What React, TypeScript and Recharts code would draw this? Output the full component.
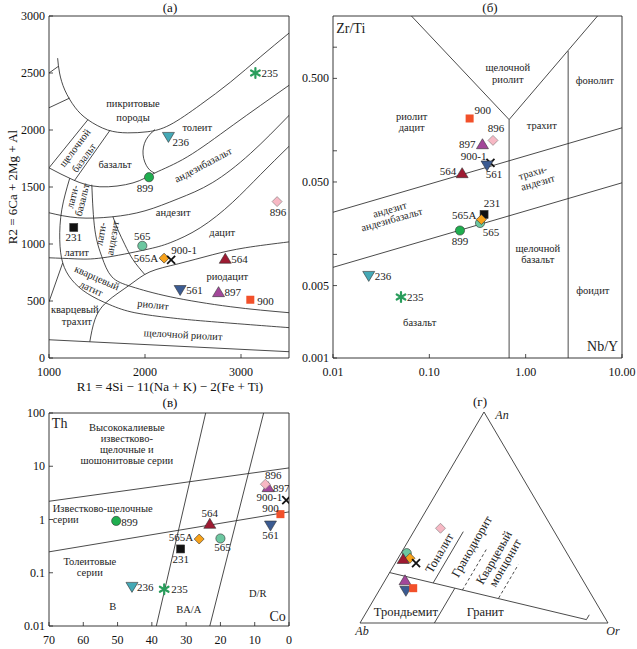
import React from "react";
import { ComposedChart, Line, Scatter, XAxis, YAxis, ReferenceArea } from "recharts";

const FONT = '"Liberation Serif", "DejaVu Serif", serif';
const INK = "#222";

// samples, same order in every panel
const SAMPLES = ["235", "236", "899", "231", "565", "565A", "900-1", "564", "561", "897", "900", "896"];

// (а) R1-R2
const R1 = [3150, 2244, 2042, 1258, 1972, 2199, 2272, 2836, 2366, 2766, 3097, 3376];
const R2 = [2500, 1942, 1586, 1145, 984, 876, 861, 868, 599, 575, 511, 1372];

// (б) Nb/Y - Zr/Ti
const NB_Y = [0.0508, 0.0235, 0.208, 0.37, 0.336, 0.347, 0.431, 0.219, 0.397, 0.356, 0.262, 0.458];
const ZR_TI = [0.00388, 0.00624, 0.017, 0.0243, 0.0201, 0.0217, 0.0766, 0.0604, 0.0726, 0.115, 0.205, 0.126];

// (в) Co - Th
const CO = [36.4, 45.8, 50.4, 31.6, 20.0, 26.2, 0.8, 23.1, 5.4, 6.1, 2.5, 6.9];
const TH = [0.049, 0.055, 0.94, 0.28, 0.44, 0.43, 2.3, 0.82, 0.78, 4.0, 1.26, 4.6];

// (г) An-Ab-Or, %
const AN = [null, null, null, null, 33.1, 30.7, 28.4, 30.2, 15.4, 20.1, 16.5, 44.9];
const OR = [null, null, null, null, 2.3, 4.8, 8.4, 2.3, 10.8, 8.1, 13.2, 10.0];

// field boundaries, (а)
const A_LINES: number[][][] = [
  [[1090, 2630], [1110, 2500], [1165, 2350], [1270, 2200], [1405, 2090], [1610, 2000], [1820, 1975], [2030, 1985], [2260, 2045], [2575, 2220], [2890, 2420], [3200, 2640], [3500, 2850]],
  [[1000, 2500], [1100, 2560]],
  [[1000, 2195], [1215, 2280]],
  [[1000, 1668], [1405, 2090]],
  [[1265, 1556], [1635, 1997]],
  [[1000, 1668], [1250, 1563], [1530, 1502], [1875, 1536], [2105, 1624], [2440, 1764], [2920, 2045], [3505, 2395]],
  [[2105, 2005], [2010, 1913], [1980, 1782], [2030, 1668], [2100, 1622]],
  [[1000, 1274], [1300, 1230], [1655, 1238], [2000, 1291], [2345, 1397], [2700, 1537], [3097, 1793], [3505, 2132]],
  [[1000, 879], [1270, 870], [1560, 879], [2000, 949], [2262, 1011], [2575, 1142], [2909, 1363], [3202, 1608], [3505, 1861]],
  [[1425, 143], [1478, 336], [1603, 493], [1843, 642], [2052, 756], [2345, 826], [2700, 905], [3045, 967], [3505, 1019]],
  [[1666, 1240], [1718, 1124], [1791, 993], [1875, 862], [2000, 730]],
  [[1216, 1577], [1133, 1300], [1112, 1037], [1143, 835], [1237, 686], [1404, 564], [1634, 467], [1895, 397], [2262, 353], [2575, 327], [3097, 292], [3505, 266]],
  [[1446, 1520], [1478, 1124], [1551, 887], [1655, 712], [1864, 625], [2262, 537], [2888, 450], [3505, 397]],
  [[1000, 493], [1143, 835]],
  [[1000, 160], [3505, 55]],
];

// (б)
const B_LINES: number[][][] = [
  [[0.0652, 2], [0.673, 0.2], [5.57, 2]],
  [[0.673, 0.2], [0.673, 0.001]],
  [[2.76, 0.917], [2.76, 0.001]],
  [[0.01, 0.0255], [10, 0.1667]],
  [[0.01, 0.0075], [10, 0.0491]],
];

// (в)
const C_LINES: number[][][] = [
  [[38.7, 0.01], [24.3, 100]],
  [[23.1, 0.01], [7.4, 100]],
  [[70, 2.2], [0, 9.3]],
  [[70, 0.247], [0, 1.39]],
];

// (г) [An, Or]
const D_TRIANGLE = [[0, 0], [100, 0], [0, 100], [0, 0]];
const D_LINES: number[][][] = [
  [[23.9, 0], [1.6, 90.5], [3.9, 90.5]],
  [[0, 30], [16.5, 30]],
  [[19, 20], [43.3, 20]],
];
const D_DASHED: number[][][] = [
  [[15.6, 33.5], [35.4, 33.5]],
  [[11.8, 50], [27.6, 50]],
];

type Lab = [string, number, number, number?, string?];

const LABELS_A: Lab[] = [
  ["пикритовые", 1875, 2229],
  ["породы", 1875, 2114],
  ["толеит", 2544, 2018],
  ["базальт", 1687, 1694],
  ["щелочной", 1269, 1843, -53],
  ["базальт", 1363, 1756, -53],
  ["андезибазальт", 2606, 1694, -28],
  ["андезит", 2293, 1274],
  ["дацит", 2805, 1098],
  ["риодацит", 2857, 713],
  ["риолит", 2084, 467, 6],
  ["щелочной риолит", 2397, 204, 3],
  ["латит", 1289, 923],
  ["кварцевый", 1499, 704, 24],
  ["латит", 1440, 610, 24],
  ["кварцевый", 1269, 423],
  ["трахит", 1290, 318],
  ["лати-", 1245, 1416, -76],
  ["базальт", 1345, 1387, -76],
  ["лати-", 1540, 1089, -80],
  ["андезит", 1663, 1052, -80],
];

const LABELS_B: Lab[] = [
  ["щелочной", 0.652, 0.638],
  ["риолит", 0.652, 0.489],
  ["фонолит", 5.22, 0.478],
  ["риолит", 0.0656, 0.214],
  ["дацит", 0.0656, 0.168],
  ["трахит", 1.47, 0.176],
  ["трахи-", 1.185, 0.0617, -16],
  ["андезит", 1.336, 0.0494, -16],
  ["андезит", 0.0388, 0.0271, -16],
  ["андезибазальт", 0.0407, 0.0217, -16],
  ["щелочной", 1.336, 0.01138],
  ["базальт", 1.336, 0.00891],
  ["фоидит", 4.97, 0.00447],
  ["базальт", 0.0794, 0.00219],
];

const LABELS_C: Lab[] = [
  ["Высококалиевые", 47.3, 52.3],
  ["известково-", 47.3, 33.5],
  ["щелочные и", 47.3, 20.9],
  ["шошонитовые серии", 47.3, 13.0],
  ["Известково-щелочные", 68.9, 1.63, 0, "start"],
  ["серии", 68.9, 1.02, 0, "start"],
  ["Толеитовые", 58.1, 0.165],
  ["серии", 58.1, 0.103],
  ["B", 51.4, 0.0228],
  ["BA/A", 29.25, 0.02],
  ["D/R", 9.1, 0.0416],
];

// [text, An, Or, angle]
const LABELS_D: Lab[] = [
  ["Тоналит", 33.1, 15.5, -60],
  ["Гранодиорит", 36.2, 27, -60],
  ["Кварцевый", 31, 38.6, -60],
  ["монцонит", 28.5, 44.3, -60],
  ["Трондьемит", 5, 16],
  ["Гранит", 5, 48],
];

const STYLE: Record<string, { shape: string; fill: string }> = {
  "235": { shape: "star", fill: "#2a9d5c" },
  "236": { shape: "down", fill: "#45a9b6" },
  "899": { shape: "circle", fill: "#1fae4f" },
  "231": { shape: "square", fill: "#111111" },
  "565": { shape: "circle", fill: "#6cc7a0" },
  "565A": { shape: "diamond", fill: "#f7a21b" },
  "900-1": { shape: "cross", fill: "#111111" },
  "564": { shape: "up", fill: "#9e1b32" },
  "561": { shape: "down", fill: "#3b5b92" },
  "897": { shape: "up", fill: "#a3479a" },
  "900": { shape: "square", fill: "#f2502a" },
  "896": { shape: "diamond", fill: "#f7b8c4" },
};

type LP = Record<string, [number, number, "start" | "middle" | "end"]>;

const POS_A: LP = {
  "235": [6, 4, "start"], "236": [4, 9, "start"], "899": [-4, 15, "middle"], "231": [0, 14, "middle"],
  "565": [0, -6, "middle"], "565A": [-6, 4, "end"], "900-1": [13, -6, "middle"], "564": [6, 4, "start"],
  "561": [6, 4, "start"], "897": [6, 4, "start"], "900": [7, 5, "start"], "896": [1, 14, "middle"],
};
const POS_B: LP = {
  "900": [13, -4, "middle"], "896": [3, -8, "middle"], "897": [-7, 3, "end"], "900-1": [-4, -3, "end"],
  "561": [7, 13, "middle"], "564": [-6, 2, "end"], "231": [8, -7, "middle"], "565A": [-5, -1, "end"],
  "565": [11, 13, "middle"], "899": [0, 14, "middle"], "236": [6, 4, "start"], "235": [6, 4, "start"],
};
const POS_C: LP = {
  "896": [8, -5, "middle"], "897": [5, 5, "start"], "900-1": [-4, 1, "end"], "900": [-10, -2, "middle"],
  "561": [0, 14, "middle"], "564": [0, -7, "middle"], "565A": [-6, 2, "end"], "565": [2, 13, "middle"],
  "231": [0, 14, "middle"], "899": [5, 5, "start"], "236": [5, 4, "start"], "235": [7, 4, "start"],
};

const toXY = (pts: number[][]) => pts.map(([x, y]) => ({ x, y }));
const tern = (an: number, or: number) => ({ x: (or + an / 2) / 100, y: an / 100 });
const ternLine = (pts: number[][]) => pts.map(([an, or]) => tern(an, or));

const samplePoints = (xs: (number | null)[], ys: (number | null)[]) =>
  SAMPLES.map((name, i) => ({ name, x: xs[i], y: ys[i] })).filter((d) => d.x != null && d.y != null);

const ternPoints = () =>
  SAMPLES.map((name, i) => (AN[i] == null ? null : { name, ...tern(AN[i] as number, OR[i] as number) })).filter(Boolean) as any[];

function drawMarker(shape: string, fill: string, cx: number, cy: number) {
  const s = "#333";
  const w = 0.6;
  switch (shape) {
    case "circle":
      return <circle cx={cx} cy={cy} r={4.6} fill={fill} stroke={s} strokeWidth={w} />;
    case "square":
      return <rect x={cx - 4} y={cy - 4} width={8} height={8} fill={fill} stroke={fill === "#111111" ? s : "none"} strokeWidth={w} />;
    case "up":
      return <polygon points={`${cx},${cy - 5.8} ${cx + 6},${cy + 4.2} ${cx - 6},${cy + 4.2}`} fill={fill} stroke={s} strokeWidth={w} />;
    case "down":
      return <polygon points={`${cx - 6},${cy - 4.2} ${cx + 6},${cy - 4.2} ${cx},${cy + 5.8}`} fill={fill} stroke={s} strokeWidth={w} />;
    case "diamond":
      return <polygon points={`${cx},${cy - 5} ${cx + 5},${cy} ${cx},${cy + 5} ${cx - 5},${cy}`} fill={fill} stroke={fill === "#f7b8c4" ? "#777" : s} strokeWidth={w} />;
    case "star":
      return (
        <g stroke={fill} strokeWidth={2.2} strokeLinecap="round">
          {[0, 60, 120].map((a) => {
            const r = (a * Math.PI) / 180;
            const dx = 5 * Math.sin(r);
            const dy = 5 * Math.cos(r);
            return <line key={a} x1={cx - dx} y1={cy - dy} x2={cx + dx} y2={cy + dy} />;
          })}
        </g>
      );
    case "cross":
      return (
        <g stroke={fill} strokeWidth={1.8}>
          <line x1={cx - 4} y1={cy - 4} x2={cx + 4} y2={cy + 4} />
          <line x1={cx - 4} y1={cy + 4} x2={cx + 4} y2={cy - 4} />
        </g>
      );
    default:
      return null;
  }
}

const markerShape = (pos: LP | null) => (p: any) => {
  const { cx, cy, payload } = p;
  const st = STYLE[payload.name];
  const lp = pos ? pos[payload.name] : null;
  return (
    <g>
      {drawMarker(st.shape, st.fill, cx, cy)}
      {lp && (
        <text x={cx + lp[0]} y={cy + lp[1]} textAnchor={lp[2]} fontSize={11} fontFamily={FONT} fill={INK}>
          {payload.name}
        </text>
      )}
    </g>
  );
};

const textShape = (size: number, italic = false) => (p: any) => {
  const { cx, cy, payload } = p;
  const a = payload.angle || 0;
  return (
    <text
      x={cx + (payload.dx || 0)}
      y={cy + (payload.dy || 0)}
      textAnchor={payload.anchor || "middle"}
      dominantBaseline="central"
      fontSize={size}
      fontStyle={italic ? "italic" : "normal"}
      fontFamily={FONT}
      fill={INK}
      transform={a ? `rotate(${a} ${cx} ${cy})` : undefined}
    >
      {payload.text}
    </text>
  );
};

const labelData = (labs: Lab[]) =>
  labs.map(([text, x, y, angle, anchor]) => ({ text, x, y, angle: angle || 0, anchor: anchor || "middle" }));

const tickLeft = (fmt: (v: number) => string) => (p: any) => {
  const { x, y, payload } = p;
  return (
    <g>
      <line x1={x} y1={y} x2={x + 4} y2={y} stroke={INK} strokeWidth={0.8} />
      <text x={x - 4} y={y + 4} textAnchor="end" fontSize={12} fontFamily={FONT} fill="#111">
        {fmt(payload.value)}
      </text>
    </g>
  );
};

const tickBottom = (fmt: (v: number) => string) => (p: any) => {
  const { x, y, payload } = p;
  return (
    <g>
      <line x1={x} y1={y} x2={x} y2={y - 4} stroke={INK} strokeWidth={0.8} />
      <text x={x} y={y + 18} textAnchor="middle" fontSize={12} fontFamily={FONT} fill="#111">
        {fmt(payload.value)}
      </text>
    </g>
  );
};

const B_YLAB: Record<string, string> = { "0.001": "0.001", "0.005": "0.005", "0.05": "0.050", "0.5": "0.500" };
const B_XLAB: Record<string, string> = { "0.01": "0.01", "0.1": "0.10", "1": "1.00", "10": "10.00" };

function Txt({ x, y, children, rot = 0, size = 13 }: { x: number; y: number; children: any; rot?: number; size?: number }) {
  return (
    <div
      style={{
        position: "absolute",
        left: x,
        top: y,
        transform: `translate(-50%, -50%) rotate(${rot}deg)`,
        whiteSpace: "nowrap",
        fontFamily: FONT,
        fontSize: size,
        lineHeight: 1,
        color: "#111",
      }}
    >
      {children}
    </div>
  );
}

const lineProps = {
  dataKey: "y",
  dot: false,
  activeDot: false,
  stroke: "#2a2a2a",
  strokeWidth: 0.85,
  isAnimationActive: false,
} as const;

function PanelA() {
  return (
    <ComposedChart width={300} height={395} margin={{ top: 16, right: 11, bottom: 17, left: 4 }}>
      <XAxis dataKey="x" type="number" domain={[1000, 3500]} allowDataOverflow ticks={[1000, 2000, 3000]} interval={0}
        axisLine={false} tickLine={false} tickSize={0} tickMargin={0} height={20} tick={tickBottom((v) => String(v))} />
      <YAxis dataKey="y" type="number" domain={[0, 3000]} allowDataOverflow ticks={[0, 500, 1000, 1500, 2000, 2500, 3000]} interval={0}
        axisLine={false} tickLine={false} tickSize={0} tickMargin={0} width={45} tick={tickLeft((v) => String(v))} />
      {A_LINES.map((l, i) => (
        <Line key={"a" + i} data={toXY(l)} type={l.length > 2 ? "natural" : "linear"} {...lineProps} />
      ))}
      <Scatter data={labelData(LABELS_A)} shape={textShape(10.5)} isAnimationActive={false} />
      <Scatter data={samplePoints(R1, R2)} shape={markerShape(POS_A)} isAnimationActive={false} />
      <ReferenceArea x1={1000} x2={3500} y1={0} y2={3000} fill="none" stroke={INK} strokeWidth={0.9} ifOverflow="visible" />
    </ComposedChart>
  );
}

function PanelB() {
  return (
    <ComposedChart width={337} height={395} margin={{ top: 16, right: 15, bottom: 17, left: 0 }}>
      <XAxis dataKey="x" type="number" scale="log" domain={[0.01, 10]} allowDataOverflow ticks={[0.01, 0.1, 1, 10]} interval={0}
        axisLine={false} tickLine={false} tickSize={0} tickMargin={0} height={20} tick={tickBottom((v) => B_XLAB[String(v)] ?? "")} />
      <YAxis dataKey="y" type="number" scale="log" domain={[0.001, 2]} allowDataOverflow ticks={[0.001, 0.005, 0.01, 0.05, 0.1, 0.5, 1]} interval={0}
        axisLine={false} tickLine={false} tickSize={0} tickMargin={0} width={33} tick={tickLeft((v) => B_YLAB[String(v)] ?? "")} />
      {B_LINES.map((l, i) => (
        <Line key={"b" + i} data={toXY(l)} type="linear" {...lineProps} />
      ))}
      <Scatter data={labelData(LABELS_B)} shape={textShape(10.5)} isAnimationActive={false} />
      <Scatter data={[{ text: "Zr/Ti", x: 0.0108, y: 1.5, anchor: "start" }, { text: "Nb/Y", x: 6.3, y: 0.00129 }]}
        shape={textShape(14)} isAnimationActive={false} />
      <Scatter data={samplePoints(NB_Y, ZR_TI)} shape={markerShape(POS_B)} isAnimationActive={false} />
      <ReferenceArea x1={0.01} x2={10} y1={0.001} y2={2} fill="none" stroke={INK} strokeWidth={0.9} ifOverflow="visible" />
    </ComposedChart>
  );
}

function PanelC() {
  return (
    <ComposedChart width={300} height={254} margin={{ top: 18, right: 11, bottom: 3, left: 4 }}>
      <XAxis dataKey="x" type="number" domain={[0, 70]} reversed allowDataOverflow ticks={[0, 10, 20, 30, 40, 50, 60, 70]} interval={0}
        axisLine={false} tickLine={false} tickSize={0} tickMargin={0} height={20} tick={tickBottom((v) => String(v))} />
      <YAxis dataKey="y" type="number" scale="log" domain={[0.01, 100]} allowDataOverflow ticks={[0.01, 0.1, 1, 10, 100]} interval={0}
        axisLine={false} tickLine={false} tickSize={0} tickMargin={0} width={45} tick={tickLeft((v) => String(v))} />
      {C_LINES.map((l, i) => (
        <Line key={"c" + i} data={toXY(l)} type="linear" {...lineProps} />
      ))}
      <Scatter data={labelData(LABELS_C)} shape={textShape(10.5)} isAnimationActive={false} />
      <Scatter data={[{ text: "Th", x: 66.9, y: 64 }, { text: "Co", x: 3.3, y: 0.0148 }]} shape={textShape(14)} isAnimationActive={false} />
      <Scatter data={samplePoints(CO, TH)} shape={markerShape(POS_C)} isAnimationActive={false} />
      <ReferenceArea x1={0} x2={70} y1={0.01} y2={100} fill="none" stroke={INK} strokeWidth={0.9} ifOverflow="visible" />
    </ComposedChart>
  );
}

function PanelD() {
  const fields = LABELS_D.map(([text, an, or, angle]) => ({ text, ...tern(an, or), angle: angle || 0 }));
  const vertices = [
    { text: "An", ...tern(100, 0), dx: 18, dy: 3 },
    { text: "Ab", ...tern(0, 0), dx: 2, dy: 8 },
    { text: "Or", ...tern(0, 100), dx: 5, dy: 8 },
  ];
  return (
    <ComposedChart width={300} height={254} margin={{ top: 17, right: 22, bottom: 26, left: 30 }}>
      <XAxis dataKey="x" type="number" domain={[0, 1]} hide />
      <YAxis dataKey="y" type="number" domain={[0, 1]} hide />
      <Line data={ternLine(D_TRIANGLE)} type="linear" {...lineProps} />
      {D_LINES.map((l, i) => (
        <Line key={"d" + i} data={ternLine(l)} type="linear" {...lineProps} />
      ))}
      {D_DASHED.map((l, i) => (
        <Line key={"dd" + i} data={ternLine(l)} type="linear" {...lineProps} strokeDasharray="3 2.5" />
      ))}
      <Scatter data={fields} shape={textShape(12.5)} isAnimationActive={false} />
      <Scatter data={vertices} shape={textShape(12, true)} isAnimationActive={false} />
      <Scatter data={ternPoints()} shape={markerShape(null)} isAnimationActive={false} />
    </ComposedChart>
  );
}

export default function App() {
  return (
    <div style={{ position: "absolute", left: 0, top: 0, width: 637, height: 649, background: "#fff", overflow: "hidden" }}>
      <div style={{ position: "absolute", left: 0, top: 0 }}><PanelA /></div>
      <div style={{ position: "absolute", left: 300, top: 0 }}><PanelB /></div>
      <div style={{ position: "absolute", left: 0, top: 395 }}><PanelC /></div>
      <div style={{ position: "absolute", left: 330, top: 395 }}><PanelD /></div>
      <Txt x={170} y={7}>(а)</Txt>
      <Txt x={490} y={7}>(б)</Txt>
      <Txt x={170} y={402}>(в)</Txt>
      <Txt x={480} y={401}>(г)</Txt>
      <Txt x={12} y={187} rot={-90}>R2 = 6Ca + 2Mg + Al</Txt>
      <Txt x={170} y={386}>R1 = 4Si − 11(Na + K) − 2(Fe + Ti)</Txt>
    </div>
  );
}
